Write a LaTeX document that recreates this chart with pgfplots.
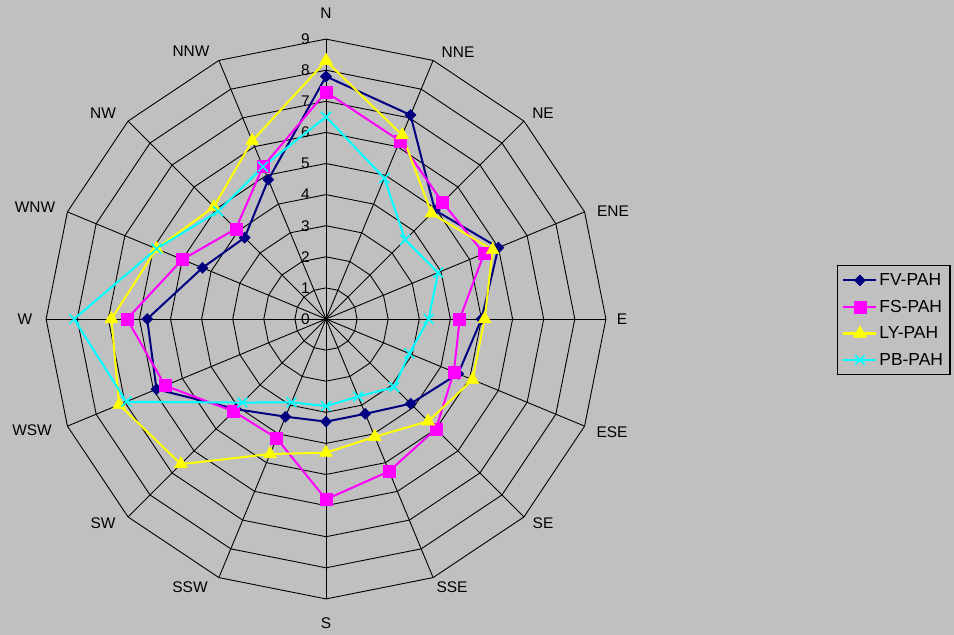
\documentclass[border=0pt]{standalone}
\usepackage{fontspec}
\setmainfont{Liberation Sans}
\usepackage{pgfplots}
\pgfplotsset{compat=1.18}
\definecolor{bg}{RGB}{192,192,192}
\definecolor{fv}{RGB}{0,0,128}
\definecolor{fs}{RGB}{255,0,255}
\definecolor{ly}{RGB}{255,255,0}
\definecolor{pb}{RGB}{0,255,255}
\begin{document}
\begin{tikzpicture}
\fill[bg] (0,0) rectangle (954bp,-635bp);
\begin{scope}[shift={(326bp,-319bp)}, x=31.1bp, y=31.1bp]
\foreach \r in {1,...,9} {\draw[line width=0.9bp] (90:\r) \foreach \k in {1,...,15}{ -- ({90-22.5*\k}:\r)} -- cycle;}
\foreach \k in {0,...,15} {\draw[line width=0.9bp] (0,0) -- ({90-22.5*\k}:9);}
\foreach \v in {0,...,9}
  {\node[anchor=east, inner sep=0pt, font=\fontsize{15.5}{18}\selectfont] at (-0.52,\v) {\v};}
\end{scope}
\foreach \name/\px/\py in {N/326/13, NNE/458/52, NE/543/113, ENE/613/211, E/622/319, ESE/612/432,
  SE/543/523, SSE/452/587, S/326/623, SSW/190/587, SW/103/523, WSW/32/430, W/25/319,
  WNW/35/207, NW/103/113, NNW/191/51}
  {\node[font=\fontsize{15.5}{18}\selectfont, inner sep=0pt] at (\px bp,-\py bp) {\name};}
\begin{axis}[at={(326bp,-319bp)}, anchor=center, x=31.1bp, y=31.1bp,
  xmin=-9, xmax=9, ymin=-9, ymax=9, hide axis, clip=false,
  legend cell align=left,
  legend image code/.code={\draw[mark repeat=2,mark phase=2,#1] plot coordinates {(0bp,0bp)(16.5bp,0bp)(33bp,0bp)};},
  legend style={at={(1.4125,0.5964)}, anchor=north west, draw=black, line width=1.2bp, fill=bg,
    font=\fontsize{17.5}{20}\selectfont, row sep=9bp, inner xsep=5bp, inner ysep=6bp,
    /tikz/every even column/.append style={column sep=4bp}},
  every axis plot/.append style={line width=2bp, data cs=polar}]
\addplot[color=fv, mark=square*, mark size=3.9bp, mark options={rotate=45, line width=0.5bp}] coordinates {
(90,7.8) (67.5,7.1) (45,4.95) (22.5,6.0) (0,5.0) (-22.5,4.6) (-45,3.85) (-67.5,3.3)
(-90,3.3) (-112.5,3.4) (-135,4.1) (-157.5,5.9) (180,5.75) (157.5,4.3) (135,3.7) (112.5,4.85) (90,7.8)};
\addlegendentry{FV-PAH}
\addplot[color=fs, mark=square*, mark size=6bp, mark options={line width=0.5bp}] coordinates {
(90,7.3) (67.5,6.2) (45,5.3) (22.5,5.5) (0,4.3) (-22.5,4.45) (-45,5.0) (-67.5,5.3)
(-90,5.8) (-112.5,4.15) (-135,4.2) (-157.5,5.6) (180,6.4) (157.5,5.0) (135,4.1) (112.5,5.3) (90,7.3)};
\addlegendentry{FS-PAH}
\addplot[color=ly, mark=triangle*, mark size=7.5bp, mark options={line width=0.5bp}] coordinates {
(90,8.3) (67.5,6.4) (45,4.8) (22.5,5.8) (0,5.1) (-22.5,5.1) (-45,4.65) (-67.5,4.1)
(-90,4.3) (-112.5,4.7) (-135,6.6) (-157.5,7.2) (180,6.9) (157.5,5.9) (135,5.1) (112.5,6.2) (90,8.3)};
\addlegendentry{LY-PAH}
\addplot[color=pb, mark=x, mark size=7bp, mark options={line width=1.5bp}] coordinates {
(90,6.5) (67.5,4.9) (45,3.6) (22.5,3.9) (0,3.3) (-22.5,2.9) (-45,3.1) (-67.5,2.7)
(-90,2.8) (-112.5,2.9) (-135,3.8) (-157.5,6.95) (180,8.1) (157.5,5.9) (135,4.9) (112.5,5.3) (90,6.5)};
\addlegendentry{PB-PAH}
\end{axis}
\pgfresetboundingbox
\useasboundingbox (0,0) rectangle (954bp,-635bp);
\end{tikzpicture}
\end{document}
